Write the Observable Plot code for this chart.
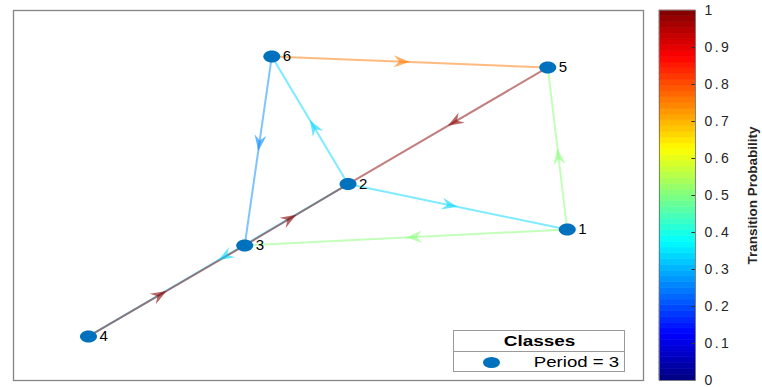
<!DOCTYPE html>
<html>
<head>
<meta charset="utf-8">
<script src="https://cdn.jsdelivr.net/npm/d3@7"></script>
<script src="https://cdn.jsdelivr.net/npm/@observablehq/plot@0.6"></script>
<style>
  html, body { margin: 0; padding: 0; background: #fff; }
  #chart { position: relative; width: 762px; height: 387px; font-family: "Liberation Sans", Arial, sans-serif; }
  #graph { position: absolute; left: 0; top: 0; }
  #colorbar { position: absolute; left: 650px; top: 0; }
  #legend {
    position: absolute; left: 453px; top: 330px; width: 170px; height: 40px;
    border: 1px solid #9a9a9a; background: #fff; color: #000; font-size: 14px;
  }
  #legend .head { height: 20px; line-height: 20px; border-bottom: 1px solid #9a9a9a; text-align: center; font-weight: bold; }
  #legend .head span { display: inline-block; transform: scaleX(1.35); }
  #legend .row { position: relative; height: 20px; }
  #legend .swatch { position: absolute; left: 29px; top: 5px; width: 17px; height: 11px; border-radius: 50%; background: #0072BD; }
  #legend .lbl { position: absolute; right: 5px; top: 0; line-height: 20px; display: inline-block; transform: scaleX(1.33); transform-origin: right center; }
</style>
</head>
<body>
<div id="chart">
  <div id="graph"></div>
  <div id="colorbar"></div>
  <div id="legend">
    <div class="head"><span>Classes</span></div>
    <div class="row"><span class="swatch"></span><span class="lbl">Period = 3</span></div>
  </div>
</div>
<script>
// States of the chain and their layout coordinates
const nodeIds = ["1", "2", "3", "4", "5", "6"];
const nodeX = [8.79, 5.31, 3.67, 1.19, 8.48, 4.10];
const nodeY = [4.08, 5.31, 3.65, 1.19, 8.46, 8.76];

// Transitions (source -> target) and their probabilities
const edgeFrom = ["1", "1", "2", "2", "2", "3", "4", "5", "6", "6"];
const edgeTo   = ["3", "5", "1", "4", "6", "2", "3", "2", "3", "5"];
const edgeProb = [0.5, 0.5, 0.3333, 0.3333, 0.3333, 1, 1, 1, 0.25, 0.75];

// Colour bar ticks
const colorTicks = [0, 0.1, 0.2, 0.3, 0.4, 0.5, 0.6, 0.7, 0.8, 0.9, 1];
const colorbarTitle = "Transition Probability";

// 64-level jet colormap
const LEVELS = 64;
function jet(t) {
  const i = Math.min(LEVELS - 1, Math.max(0, Math.floor(t * LEVELS)));
  const u = (i + 0.5) / LEVELS;
  const c = v => Math.round(255 * Math.max(0, Math.min(1, v)));
  return `rgb(${c(1.5 - Math.abs(4 * u - 3))},${c(1.5 - Math.abs(4 * u - 2))},${c(1.5 - Math.abs(4 * u - 1))})`;
}
const colorScale = {type: "linear", domain: [0, 1], interpolate: () => jet};

const xOpts = {domain: [0, 10], range: [13, 643]};
const yOpts = {domain: [0, 10], range: [380, 10]};
const sx = Plot.scale({x: xOpts});
const sy = Plot.scale({y: yOpts});

const nodes = nodeIds.map((id, i) => ({id, x: nodeX[i], y: nodeY[i]}));
const byId = new Map(nodes.map(n => [n.id, n]));
const edges = edgeFrom.map((f, i) => {
  const a = byId.get(f), b = byId.get(edgeTo[i]);
  const ang = Math.atan2(sy.apply(b.y) - sy.apply(a.y), sx.apply(b.x) - sx.apply(a.x)) * 180 / Math.PI;
  return {from: f, to: edgeTo[i], p: edgeProb[i],
          x1: a.x, y1: a.y, x2: b.x, y2: b.y,
          xm: (a.x + b.x) / 2, ym: (a.y + b.y) / 2, angle: ang};
});

// arrowhead pointing along +x with its tip at the origin
const arrowHead = {
  draw(ctx) {
    ctx.moveTo(0, 0);
    ctx.lineTo(-16, -6);
    ctx.lineTo(-10.5, 0);
    ctx.lineTo(-16, 6);
    ctx.closePath();
  }
};
// slightly wide node marker
const nodeMark = {
  draw(ctx) {
    const rx = 8.5, ry = 6, k = 0.5523;
    ctx.moveTo(rx, 0);
    ctx.bezierCurveTo(rx, k * ry, k * rx, ry, 0, ry);
    ctx.bezierCurveTo(-k * rx, ry, -rx, k * ry, -rx, 0);
    ctx.bezierCurveTo(-rx, -k * ry, -k * rx, -ry, 0, -ry);
    ctx.bezierCurveTo(k * rx, -ry, rx, -k * ry, rx, 0);
    ctx.closePath();
  }
};

const font = "'Liberation Sans', Arial, sans-serif";

const graph = Plot.plot({
  width: 650, height: 387,
  marginLeft: 13, marginRight: 7, marginTop: 10, marginBottom: 7,
  style: {fontFamily: font, background: "transparent"},
  x: {...xOpts, axis: null},
  y: {...yOpts, axis: null},
  color: colorScale,
  marks: [
    Plot.frame({stroke: "#858585", strokeWidth: 1.3}),
    Plot.link(edges, {x1: "x1", y1: "y1", x2: "x2", y2: "y2", stroke: "p", strokeOpacity: 0.5, strokeWidth: 2}),
    Plot.dot(edges, {x: "xm", y: "ym", rotate: "angle", symbol: arrowHead, r: 8, fill: "p", fillOpacity: 0.6, stroke: "none"}),
    Plot.dot(nodes, {x: "x", y: "y", symbol: nodeMark, r: 7, fill: "#0072BD", stroke: "none"}),
    Plot.text(nodes, {x: "x", y: "y", text: "id", dx: 11, textAnchor: "start", fontSize: 15, fill: "#000"})
  ]
});
document.getElementById("graph").append(graph);

const tickFormat = d => (d === 0 || d === 1) ? String(d) : d.toFixed(1);
const bands = d3.range(LEVELS);
const colorbar = Plot.plot({
  width: 112, height: 387,
  marginLeft: 9, marginRight: 67, marginTop: 10, marginBottom: 7,
  style: {fontFamily: font, background: "transparent", color: "#262626"},
  x: {domain: [0, 1], axis: null},
  y: {domain: [0, 1], axis: null},
  color: colorScale,
  marks: [
    Plot.rect(bands, {y1: d => d / LEVELS, y2: d => (d + 1) / LEVELS, fill: d => (d + 0.5) / LEVELS, stroke: d => (d + 0.5) / LEVELS, strokeWidth: 0.6}),
    Plot.ruleY(colorTicks.slice(1, -1), {x1: 0.9, x2: 1, stroke: "#333", strokeWidth: 1}),
    Plot.frame({stroke: "#6e6e6e", strokeWidth: 0.8}),
    Plot.text(colorTicks, {y: d => d, text: tickFormat, frameAnchor: "right", dx: 9, textAnchor: "start", fontSize: 14, fill: "#262626"}),
    Plot.text([colorbarTitle], {frameAnchor: "right", dx: 57, rotate: -90, textAnchor: "middle", fontSize: 13.5, fontWeight: "bold", fill: "#262626"})
  ]
});
// widen the tick label glyph spacing
d3.select(colorbar).selectAll("text")
  .filter(function() { return this.textContent !== colorbarTitle; })
  .style("letter-spacing", "2.4px");
document.getElementById("colorbar").append(colorbar);
</script>
</body>
</html>
